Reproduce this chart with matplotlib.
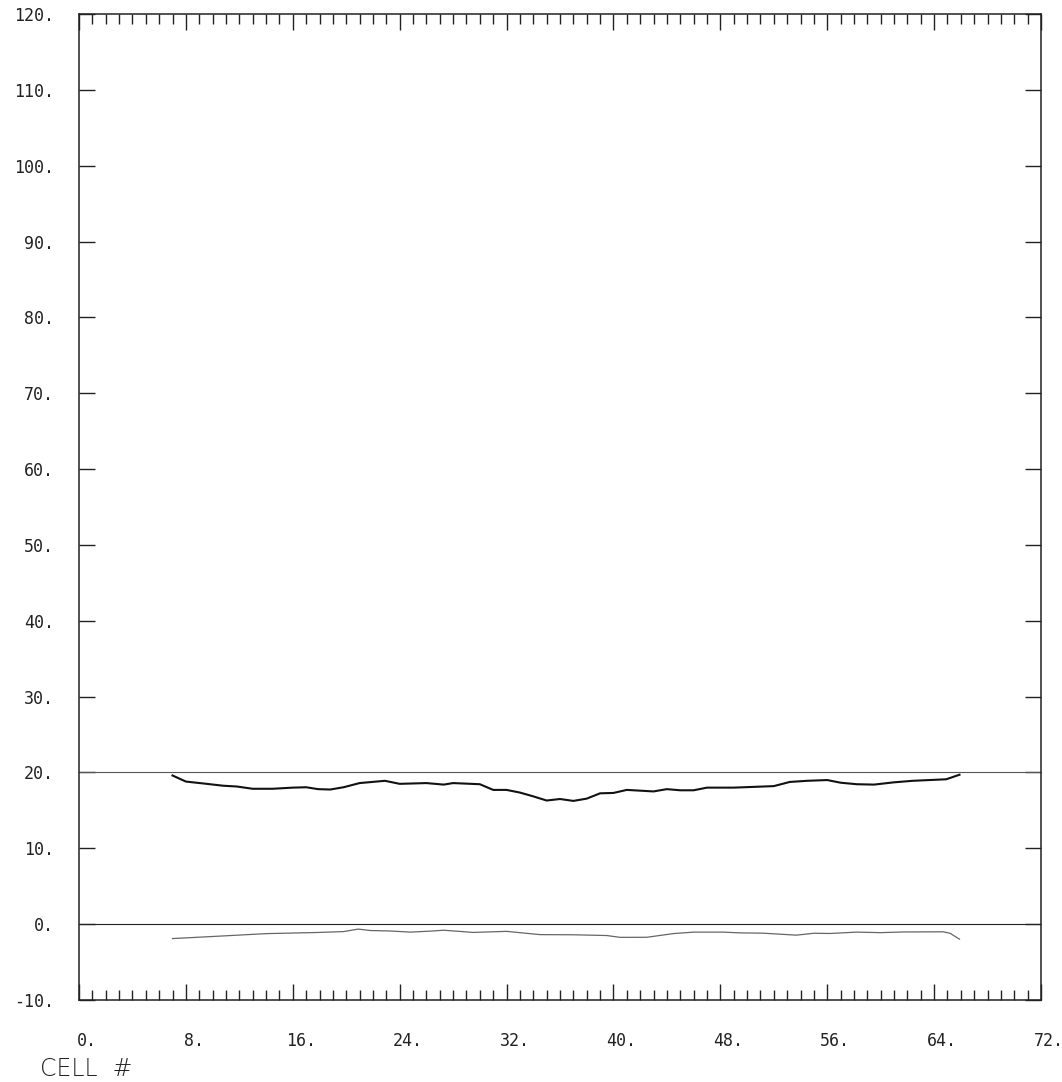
import matplotlib
matplotlib.use("Agg")
import matplotlib.pyplot as plt
from matplotlib.transforms import ScaledTranslation
import numpy as np

# ---- data ----
upper_cells = [7, 8, 9.3, 10.8, 11.8, 13, 14.5, 16, 17, 17.9, 18.8, 19.8, 21, 22.9, 24,
               26, 27.3, 28, 30, 31, 32, 33, 34, 35, 36, 37, 38, 39, 40, 41, 42, 43, 44,
               45, 46, 47, 49, 52, 53.2, 54.5, 56, 57, 58.2, 59.5, 61, 62.4, 64.9, 65.9]
upper_vals = [19.6, 18.8, 18.55, 18.25, 18.15, 17.85, 17.85, 18.0, 18.05, 17.8, 17.75, 18.05,
              18.6, 18.9, 18.5, 18.6, 18.4, 18.6, 18.45, 17.7, 17.7, 17.35, 16.85, 16.3,
              16.5, 16.25, 16.55, 17.25, 17.3, 17.7, 17.6, 17.5, 17.8, 17.65, 17.65, 18.0,
              18.0, 18.2, 18.75, 18.9, 19.0, 18.65, 18.45, 18.4, 18.7, 18.9, 19.1, 19.7]

lower_cells = [7, 10.3, 14, 17.8, 19.8, 20.9, 21.8, 23.3, 24.8, 26.3, 27.3, 29.5, 32, 34.5,
               37, 39.5, 40.5, 42.5, 44.5, 46, 48.2, 49.5, 51.2, 53.7, 55, 56.2, 58.2, 60,
               61.7, 64.7, 65.2, 65.9]
lower_vals = [-1.9, -1.6, -1.25, -1.1, -0.98, -0.65, -0.84, -0.9, -1.05, -0.92, -0.8, -1.09,
              -0.95, -1.38, -1.4, -1.5, -1.74, -1.73, -1.24, -1.05, -1.05, -1.15, -1.19,
              -1.45, -1.2, -1.23, -1.05, -1.12, -1.03, -1.01, -1.21, -1.98]

ref_levels = [20, 0]

x_major = list(range(0, 73, 8))
x_labels = [f"{v}." for v in x_major]
y_major = list(range(-10, 121, 10))
y_labels = [f"{v}." for v in y_major]

# ---- figure ----
fig = plt.figure(figsize=(10.62, 10.82), dpi=100)
ax = fig.add_axes([79/1062, 1 - 1000/1082, (1041-79)/1062, (1000-14)/1082])
ax.set_xlim(0, 72)
ax.set_ylim(-10, 120)

ax.axhline(ref_levels[0], color="#555555", lw=0.8)
ax.axhline(ref_levels[1], color="#222222", lw=0.8)
ax.plot(upper_cells, upper_vals, color="#111111", lw=1.5)
ax.plot(lower_cells, lower_vals, color="#666666", lw=0.9)

for s in ax.spines.values():
    s.set_linewidth(1.1)
    s.set_color("#222222")

ax.set_xticks(x_major)
ax.set_xticklabels(x_labels)
ax.set_xticks(range(0, 73, 1), minor=True)
ax.set_yticks(y_major)
ax.set_yticklabels(y_labels)

mono = "DejaVu Sans Mono"
ax.tick_params(axis="x", which="both", direction="in", top=True, bottom=True,
               color="#222222", width=1.0)
ax.tick_params(axis="x", which="major", length=11.5, pad=23, labelsize=12)
ax.tick_params(axis="x", which="minor", length=7)
ax.tick_params(axis="y", which="major", direction="in", left=True, right=True,
               length=11.5, width=1.0, color="#222222", pad=18, labelsize=12)

for lab in ax.get_xticklabels():
    lab.set_fontfamily(mono)
    lab.set_color("#222222")
    lab.set_transform(lab.get_transform() + ScaledTranslation(8/100, 0, fig.dpi_scale_trans))
for lab in ax.get_yticklabels():
    lab.set_fontfamily(mono)
    lab.set_color("#222222")

fig.text(40/1062, 1 - 1069/1082, "CELL  #", fontsize=17, fontfamily="DejaVu Sans",
         fontweight="light", color="#222222", va="center", ha="left")

fig.savefig("out.png", dpi=100, facecolor="white")
